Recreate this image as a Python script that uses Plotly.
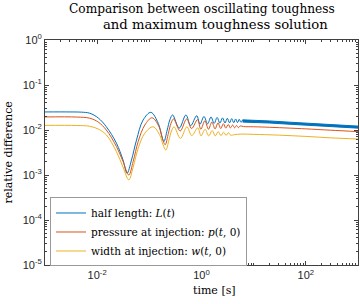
import plotly.graph_objects as go

# ---- data ----
# half length L(t): oscillation extrema and shape points
t_L = [0.001, 0.003, 0.005, 0.0072, 0.0105, 0.015, 0.0234, 0.0313, 0.0374, 0.0455,
       0.0568, 0.076, 0.107, 0.148, 0.171, 0.19, 0.22, 0.247, 0.279, 0.374,
       0.503, 0.62, 0.81, 0.935, 1.115, 1.31, 1.52, 1.75, 1.99, 2.25,
       2.53, 2.82, 3.13, 3.45, 3.79, 4.14, 4.51, 4.9, 5.29, 5.7, 6.15]
v_L = [0.0252, 0.0252, 0.0249, 0.0236, 0.0185, 0.0118, 0.0051, 0.00215, 0.00109, 0.00215,
       0.0060, 0.0167, 0.0247, 0.0141, 0.0078, 0.0055, 0.0100, 0.0167, 0.0216, 0.0110,
       0.0216, 0.0125, 0.0208, 0.0134, 0.0200, 0.0137, 0.0195, 0.0140, 0.0190, 0.0142,
       0.0186, 0.0143, 0.0182, 0.0144, 0.0179, 0.0145, 0.0176, 0.0146, 0.0173, 0.0148, 0.0168]

# dense-oscillation band of L(t) (upper / lower envelope)
t_band = [6.15, 10, 20, 50, 100, 200, 500, 1000]
band_hi = [0.0168, 0.0165, 0.0159, 0.0149, 0.0142, 0.0134, 0.0126, 0.0122]
band_lo = [0.0150, 0.0149, 0.0143, 0.0134, 0.0128, 0.0121, 0.0114, 0.0110]

# pressure at injection p(t,0)
t_p = [0.001, 0.004, 0.0072, 0.0105, 0.015, 0.0234, 0.0313, 0.0404, 0.049, 0.061,
       0.082, 0.113, 0.155, 0.178, 0.201, 0.232, 0.26, 0.292, 0.39, 0.52,
       0.645, 0.84, 0.97, 1.16, 1.36, 1.58, 1.82, 2.07, 2.34, 2.63,
       2.93, 3.26, 3.59, 3.94, 4.31, 4.69, 5.1, 5.5, 6.4, 10, 20,
       50, 100, 300, 1000]
v_p = [0.0195, 0.0194, 0.0183, 0.0150, 0.0100, 0.0043, 0.0020, 0.00100, 0.0020, 0.0055,
       0.0129, 0.0187, 0.0115, 0.0065, 0.0047, 0.0085, 0.0140, 0.0176, 0.0095, 0.0176,
       0.0108, 0.0170, 0.0104, 0.0160, 0.0104, 0.0150, 0.0106, 0.0144, 0.0108, 0.0138,
       0.0110, 0.0133, 0.0111, 0.0129, 0.0112, 0.0126, 0.0113, 0.0123, 0.0119, 0.0118, 0.0115,
       0.0110, 0.0106, 0.0099, 0.0092]

# width at injection w(t,0)
t_w = [0.001, 0.004, 0.0072, 0.0105, 0.015, 0.0234, 0.0313, 0.0404, 0.049, 0.061,
       0.082, 0.118, 0.16, 0.183, 0.207, 0.238, 0.266, 0.298, 0.395, 0.525,
       0.65, 0.85, 0.98, 1.17, 1.38, 1.6, 1.84, 2.09, 2.36, 2.66,
       2.96, 3.29, 3.62, 4.35, 5.5, 10, 30, 100, 300, 1000]
v_w = [0.0127, 0.0126, 0.0121, 0.0105, 0.0078, 0.0033, 0.0015, 0.00078, 0.0015, 0.0039,
       0.0085, 0.0118, 0.0075, 0.0047, 0.0036, 0.0060, 0.0095, 0.0118, 0.0065, 0.0118,
       0.0075, 0.0112, 0.0074, 0.0103, 0.0074, 0.0097, 0.0074, 0.0092, 0.0075, 0.0089,
       0.0076, 0.0087, 0.0077, 0.0079, 0.0081, 0.0080, 0.0077, 0.0072, 0.0067, 0.0063]

labels = ["half length: <i>L</i>(<i>t</i>)",
          "pressure at injection: <i>p</i>(<i>t</i>, 0)",
          "width at injection: <i>w</i>(<i>t</i>, 0)"]
colors = ["#0072BD", "#D95319", "#EDB120"]

y_tickvals = [1e-5, 1e-4, 1e-3, 1e-2, 1e-1, 1]
y_ticktext = ["10<sup>-5</sup>", "10<sup>-4</sup>", "10<sup>-3</sup>",
              "10<sup>-2</sup>", "10<sup>-1</sup>", "10<sup>0</sup>"]
x_tickvals = [1e-2, 1, 1e2]
x_ticktext = ["10<sup>-2</sup>", "10<sup>0</sup>", "10<sup>2</sup>"]

title_lines = ["Comparison between oscillating toughness", "and maximum toughness solution"]

serif = "DejaVu Serif"
sans = "Liberation Sans"

fig = go.Figure()
fig.add_trace(go.Scatter(x=t_L, y=v_L, mode="lines", name=labels[0],
                         line=dict(color=colors[0], width=1, shape="spline")))
fig.add_trace(go.Scatter(x=t_band, y=band_hi, mode="lines", showlegend=False,
                         line=dict(color=colors[0], width=1)))
fig.add_trace(go.Scatter(x=t_band, y=band_lo, mode="lines", showlegend=False,
                         fill="tonexty", fillcolor=colors[0],
                         line=dict(color=colors[0], width=1)))
fig.add_trace(go.Scatter(x=t_p, y=v_p, mode="lines", name=labels[1],
                         line=dict(color=colors[1], width=1, shape="spline")))
fig.add_trace(go.Scatter(x=t_w, y=v_w, mode="lines", name=labels[2],
                         line=dict(color=colors[2], width=1, shape="spline")))

minor_x = [m * 10 ** k for k in range(-3, 3) for m in range(1, 10)] + [1000]
minor_y = [m * 10 ** k for k in range(-5, 0) for m in range(1, 10)]

axis_common = dict(showline=True, linecolor="#404040", linewidth=1, mirror="allticks",
                   ticks="inside", ticklen=4, tickcolor="#404040", showgrid=False,
                   zeroline=False, automargin=False,
                   tickfont=dict(family=sans, size=11, color="#262626"))

fig.update_xaxes(type="log", range=[-3, 3], tickmode="array", tickvals=x_tickvals,
                 ticktext=x_ticktext,
                 minor=dict(tickmode="array", tickvals=minor_x, ticks="inside",
                            ticklen=2, tickcolor="#404040", showgrid=False),
                 **axis_common)
fig.update_yaxes(type="log", range=[-5, 0], tickmode="array", tickvals=y_tickvals,
                 ticktext=y_ticktext,
                 minor=dict(tickmode="array", tickvals=minor_y, ticks="inside",
                            ticklen=2, tickcolor="#404040", showgrid=False),
                 **axis_common)

# axis titles and title as annotations (pixel-accurate placement)
fig.add_annotation(text="time [s]", xref="paper", yref="paper", x=0.543, y=-0.115,
                   xanchor="center", yanchor="middle", showarrow=False,
                   font=dict(family=serif, size=11, color="black"))
fig.add_annotation(text="relative difference", xref="paper", yref="paper", x=-0.118, y=0.5,
                   xanchor="center", yanchor="middle", showarrow=False, textangle=-90,
                   font=dict(family=serif, size=11, color="black"))
fig.add_annotation(text=title_lines[0], xref="paper", yref="paper", x=0.5, y=1.1378,
                   xanchor="center", yanchor="middle", showarrow=False,
                   font=dict(family=serif, size=12.2, color="black"))
fig.add_annotation(text=title_lines[1], xref="paper", yref="paper", x=0.546, y=1.0689,
                   xanchor="center", yanchor="middle", showarrow=False,
                   font=dict(family=serif, size=13.2, color="black"))

fig.update_layout(
    width=360, height=304,
    margin=dict(l=45, r=2, t=40, b=39),
    paper_bgcolor="white", plot_bgcolor="white",
    legend=dict(x=0.016, y=0.1467, xanchor="left", yanchor="middle",
                bordercolor="#999999", borderwidth=1, bgcolor="white",
                font=dict(family=serif, size=10.5, color="black"),
                traceorder="normal", itemwidth=30, tracegroupgap=0),
    showlegend=True,
)

fig.write_html("out.html", config={"displayModeBar": False},
               post_script="document.body.style.margin='0px';")
